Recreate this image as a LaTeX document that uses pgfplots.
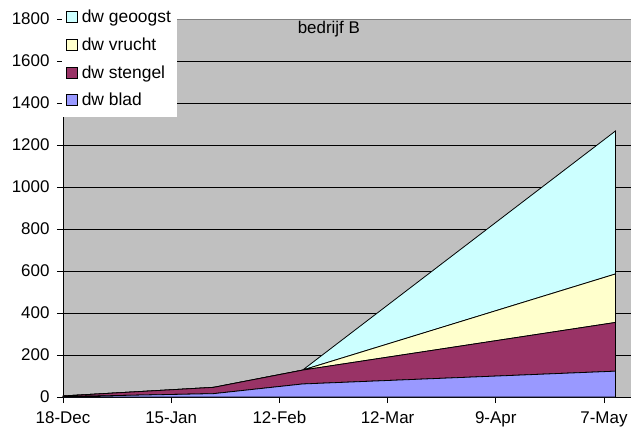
\documentclass[border=0pt]{standalone}
\usepackage{pgfplots}
\pgfplotsset{compat=1.18}
\usepackage{fontspec}
\setmainfont{Liberation Sans}
\definecolor{bgray}{HTML}{C0C0C0}
\definecolor{cblad}{HTML}{9999FF}
\definecolor{cstengel}{HTML}{993366}
\definecolor{cvrucht}{HTML}{FFFFCC}
\definecolor{cgeoogst}{HTML}{CCFFFF}
\begin{document}
\begin{tikzpicture}
\path[use as bounding box] (-63bp,-33bp) rectangle (568bp,397bp);
\begin{axis}[
  at={(0,0)}, anchor=south west,
  scale only axis, width=568bp, height=378bp,
  xmin=0, xmax=147, ymin=0, ymax=1800,
  xtick={0,28,56,84,112,140},
  xticklabels={18-Dec,15-Jan,12-Feb,12-Mar,9-Apr,7-May},
  ytick={0,200,...,1800},
  /pgf/number format/assume math mode=true,
  /pgf/number format/1000 sep={},
  tick label style={font=\fontsize{17}{20}\selectfont},
  xticklabel style={yshift=-5bp},
  yticklabel style={xshift=-4bp},
  tick align=outside, major tick length=6bp,
  tick style={black, line width=0.8bp},
  axis x line*=bottom, axis y line*=left,
  axis line style={black, line width=0.8bp, -},
  ymajorgrids, grid style={black, line width=0.8bp},
  axis background/.style={fill=bgray},
  stack plots=y,
  reverse legend,
  legend image code/.code={\draw[#1,draw=black,line width=0.6bp] (0bp,-5.5bp) rectangle (11bp,5.5bp); \path (13bp,0bp);},
  legend style={at={(axis description cs:-0.002,1.0503)}, anchor=north west,
    draw=none, fill=white, font=\fontsize{17.5}{20}\selectfont,
    inner xsep=4bp, inner ysep=8bp, row sep=9.5bp, cells={anchor=west}},
  clip=false,
]
\addplot[fill=cblad, draw=black, line width=0.8bp] coordinates {(0,2) (39,16) (62,62) (143,123)} \closedcycle;
\addlegendentry{dw blad}
\addplot[fill=cstengel, draw=black, line width=0.8bp] coordinates {(0,3) (39,30) (62,66) (143,232)} \closedcycle;
\addlegendentry{dw stengel}
\addplot[fill=cvrucht, draw=black, line width=0.8bp] coordinates {(0,0) (39,0) (62,0) (143,231)} \closedcycle;
\addlegendentry{dw vrucht}
\addplot[fill=cgeoogst, draw=black, line width=0.8bp] coordinates {(0,0) (39,0) (62,0) (143,681)} \closedcycle;
\addlegendentry{dw geoogst}
\draw[gray, line width=0.8bp] (rel axis cs:0,1) -- (rel axis cs:1,1);
\node[font=\fontsize{17}{20}\selectfont] at (rel axis cs:0.468,0.974) {bedrijf B};
\end{axis}
\end{tikzpicture}
\end{document}
